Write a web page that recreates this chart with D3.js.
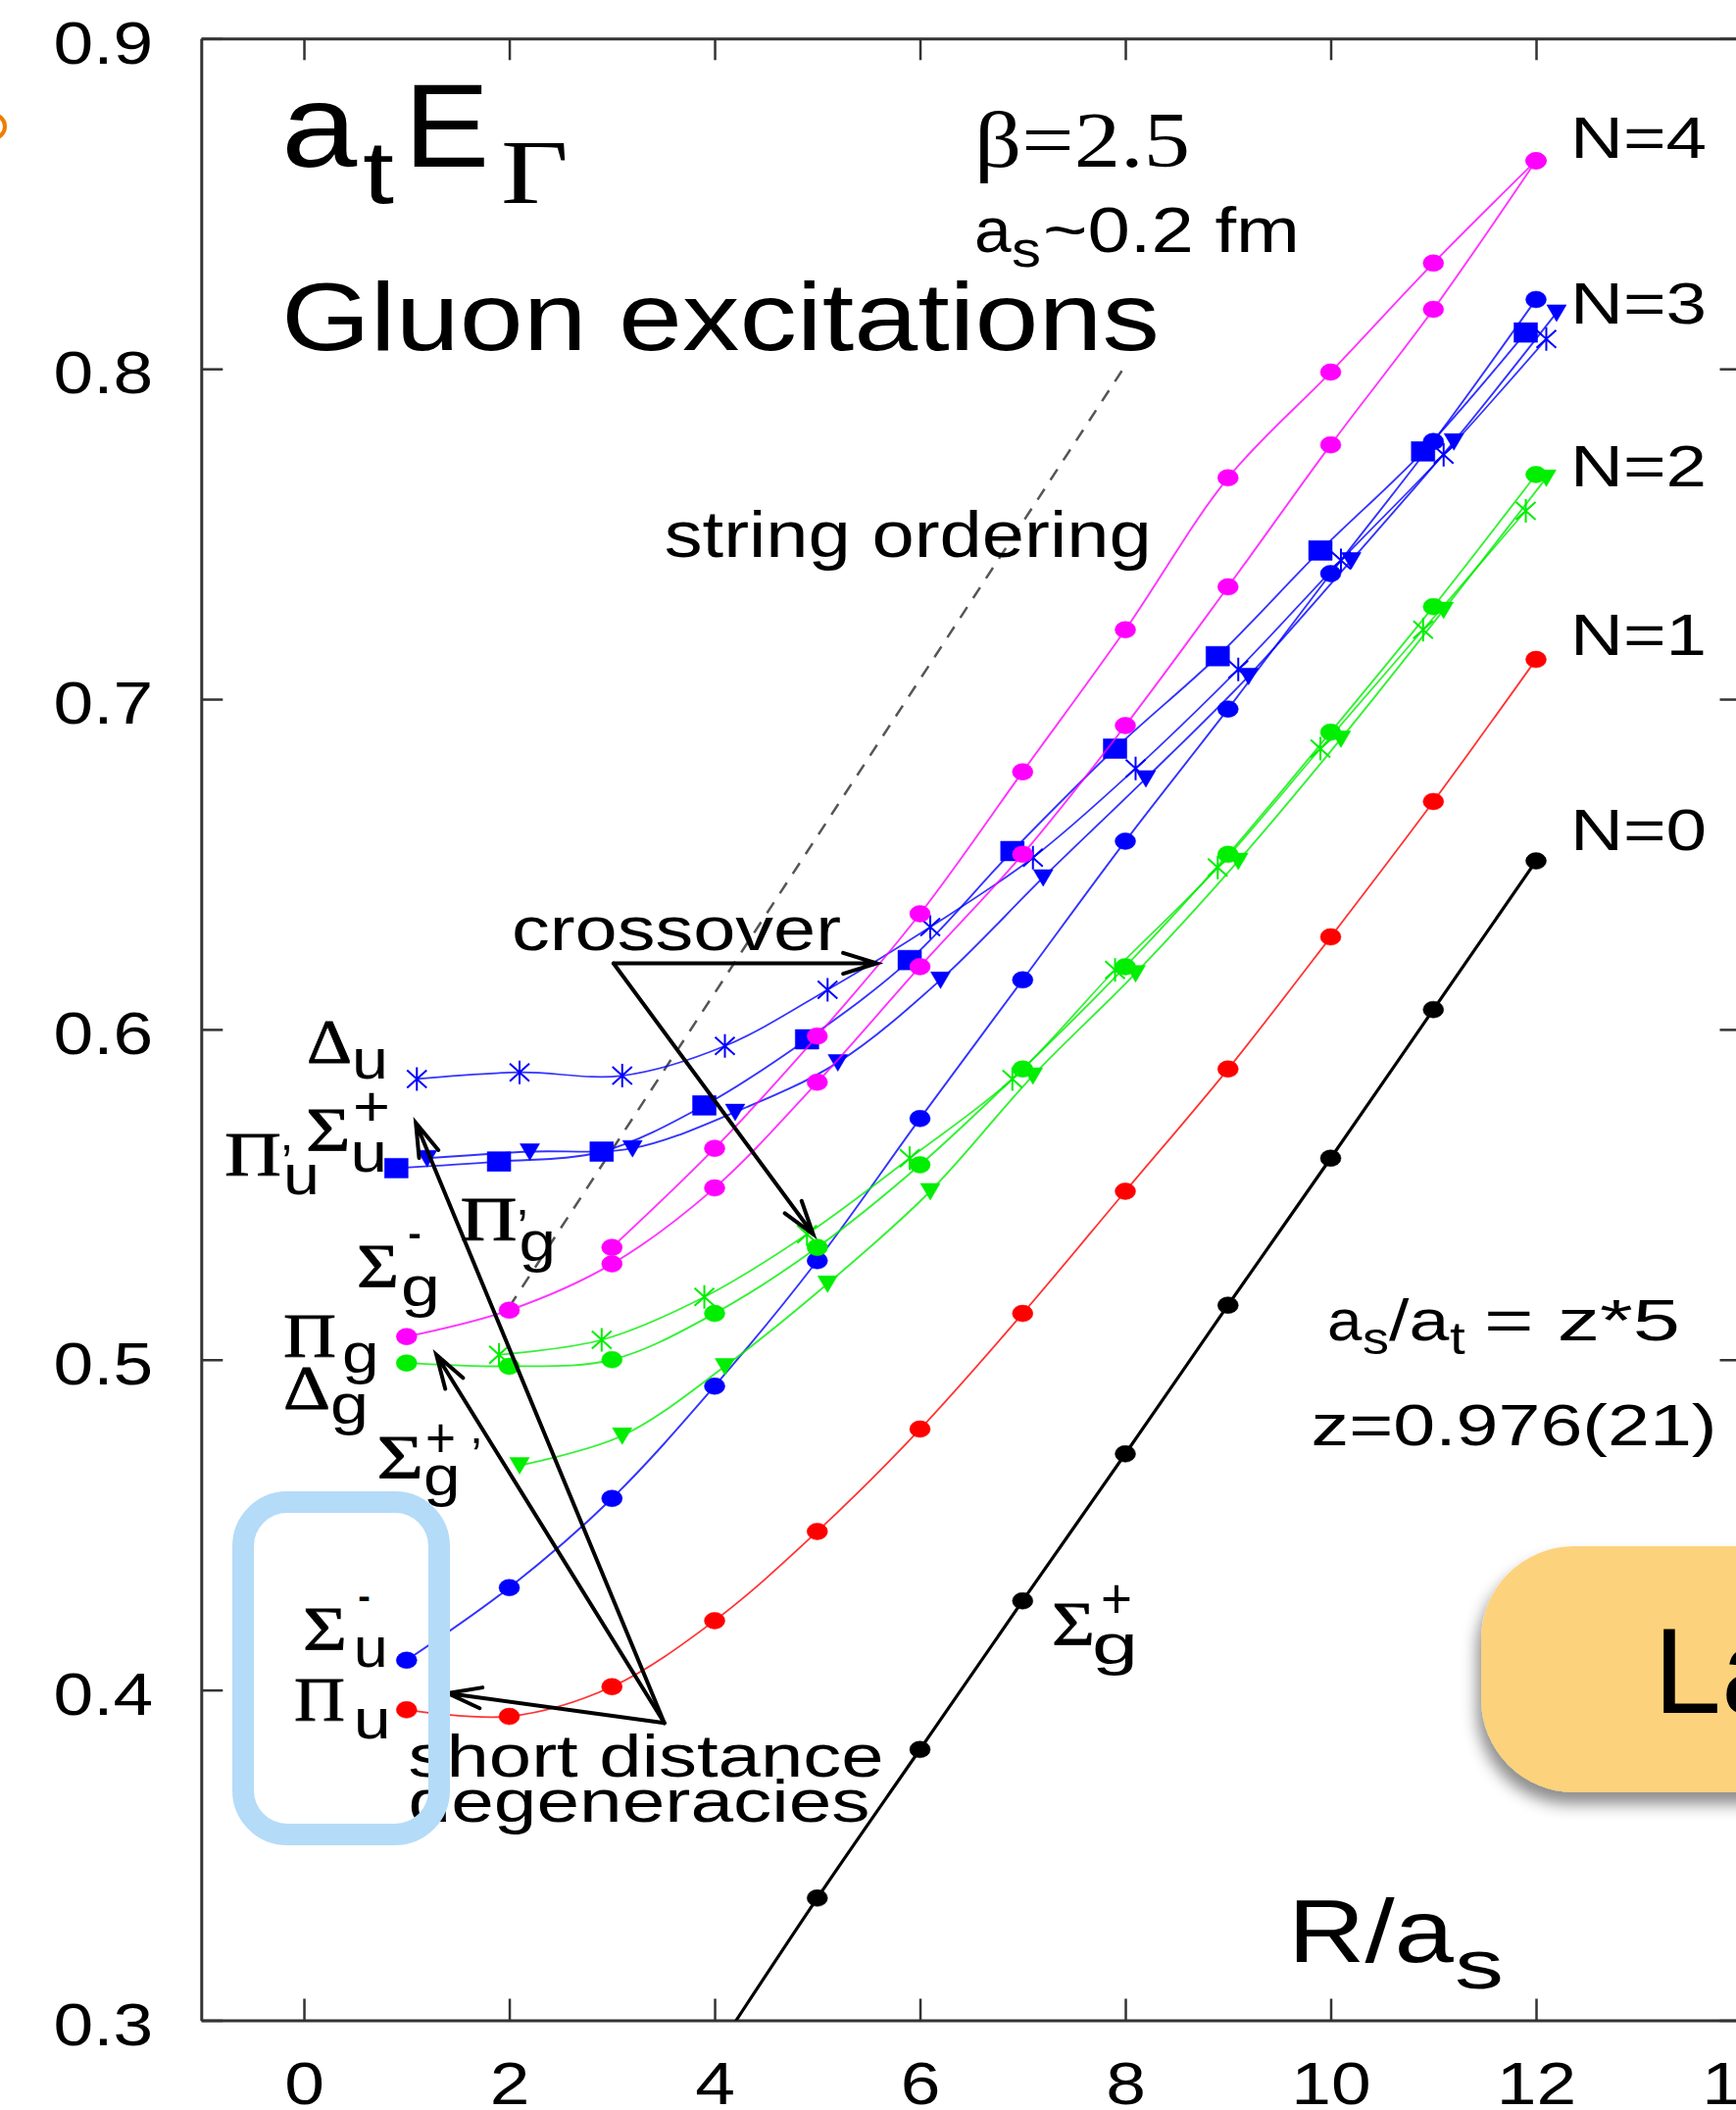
<!DOCTYPE html>
<html>
<head>
<meta charset="utf-8">
<script src="https://cdn.jsdelivr.net/npm/d3@7"></script>
<style>
  html, body { margin: 0; padding: 0; background: #fff; }
  svg { display: block; }
  text { font-family: "Liberation Sans", Arial, Helvetica, sans-serif; fill: #000; }
  .serif { font-family: "Liberation Serif", "Times New Roman", serif; }
  .greek { stroke: #000; stroke-width: 0.8; }
</style>
</head>
<body>
<div id="chart"></div>
<script>
// separation R/a_s
const R = [1, 2, 3, 4, 5, 6, 7, 8, 9, 10, 11, 12];

// N=0
const sigmaGPlus = [null, null, null, 0.290, 0.337, 0.382, 0.427, 0.4715, 0.5165, 0.561, 0.606, 0.651];
// N=1
const piU = [0.394, 0.392, 0.401, 0.421, 0.448, 0.479, 0.514, 0.551, 0.588, 0.628, 0.669, 0.712];
// N=2
const deltaG = [0.499, 0.498, 0.500, 0.514, 0.534, 0.559, 0.588, 0.619, 0.653, 0.690, 0.728, 0.768];
const n2Cross = [null, 0.5015, 0.506, 0.519, 0.538, 0.561, 0.585, 0.618, 0.649, 0.685, 0.721, 0.757];
const sigmaGPlusPrime = [null, 0.468, 0.477, 0.498, 0.523, 0.551, 0.586, 0.617, 0.651, 0.688, 0.727, 0.767];
// N=3
const sigmaUMinus = [0.409, 0.431, 0.458, 0.492, 0.530, 0.573, 0.615, 0.657, 0.697, 0.738, 0.778, 0.821];
const piUPrime = [0.558, 0.560, 0.563, 0.577, 0.597, 0.621, 0.654, 0.685, 0.713, 0.745, 0.775, 0.811];
const sigmaUPlus = [0.561, 0.563, 0.564, 0.575, 0.590, 0.615, 0.646, 0.676, 0.707, 0.742, 0.778, 0.817];
const deltaU = [0.585, 0.587, 0.586, 0.595, 0.612, 0.631, 0.652, 0.679, 0.709, 0.742, 0.774, 0.809];
// N=4
const piG = [0.507, 0.515, 0.529, 0.552, 0.584, 0.619, 0.653, 0.692, 0.734, 0.777, 0.818, 0.863];
const piGPrime = [null, null, 0.534, 0.564, 0.598, 0.635, 0.678, 0.721, 0.767, 0.799, 0.832, 0.863];

const xTicks = [0, 2, 4, 6, 8, 10, 12, 14];
const yTicks = [0.3, 0.4, 0.5, 0.6, 0.7, 0.8, 0.9];

// annotation geometry, in data units
const stringOrdering = [[2.0, 0.516], [8.0, 0.801]];
const crossoverFrom = [3.015, 0.620];
const crossoverTo = [[5.58, 0.620], [4.96, 0.538]];
const degenFrom = [3.51, 0.390];
const degenTo = [[1.40, 0.399], [1.29, 0.5015], [1.09, 0.5717]];
const levelLabels = ["N=4", "N=3", "N=2", "N=1", "N=0"];
const levelLabelY = [0.8639, 0.8137, 0.7645, 0.7135, 0.6543];

const W = 1771, H = 2152;
const x = d3.scaleLinear().domain([-1, 14]).range([205.3, 1776.5]);
const y = d3.scaleLinear().domain([0.3, 0.9]).range([2060.5, 39.3]);

const svg = d3.select("#chart").append("svg")
  .attr("width", W).attr("height", H).attr("viewBox", [0, 0, W, H]);
svg.append("rect").attr("width", W).attr("height", H).attr("fill", "#fff");

const defs = svg.append("defs");
defs.append("clipPath").attr("id", "plot-clip").append("rect")
  .attr("x", x(-1)).attr("y", y(0.9)).attr("width", x(14) - x(-1)).attr("height", y(0.3) - y(0.9));
defs.append("filter").attr("id", "shadow").attr("x", "-20%").attr("y", "-20%").attr("width", "140%").attr("height", "150%")
  .append("feDropShadow").attr("dx", -4).attr("dy", 12).attr("stdDeviation", 8)
  .attr("flood-color", "#000").attr("flood-opacity", 0.45);

// stretch a text horizontally so it spans `w` pixels
function fit(t, X, Y, w) {
  t.attr("x", 0).attr("y", 0);
  const bw = t.node().getBBox().width || 1;
  t.attr("transform", `translate(${X},${Y}) scale(${w ? w / bw : 1},1)`);
  return t;
}

// ---- axes (ticks point inward on all four sides)
const axisColor = "#333";
const tickLen = 22;
const stretchTicks = 1.18;

svg.append("g").attr("transform", `translate(${x(-1)},0)`)
  .call(d3.axisLeft(y).tickValues(yTicks).tickSize(-tickLen).tickSizeOuter(0).tickPadding(0).tickFormat(d3.format(".1f")))
  .call((g) => g.attr("color", axisColor).attr("font-size", 62).attr("font-family", null))
  .call((g) => g.select(".domain").attr("stroke-width", 3))
  .call((g) => g.selectAll(".tick line").attr("stroke-width", 2.5))
  .call((g) => g.selectAll(".tick text").attr("fill", "#000").attr("x", 0).attr("dy", "0.4em")
    .attr("transform", `translate(-49,0) scale(${stretchTicks},1)`));

svg.append("g").attr("transform", `translate(0,${y(0.3)})`)
  .call(d3.axisBottom(x).tickValues(xTicks).tickSize(-tickLen).tickSizeOuter(0).tickPadding(0))
  .call((g) => g.attr("color", axisColor).attr("font-size", 62).attr("font-family", null))
  .call((g) => g.select(".domain").attr("stroke-width", 3))
  .call((g) => g.selectAll(".tick line").attr("stroke-width", 2.5))
  .call((g) => g.selectAll(".tick text").attr("fill", "#000").attr("y", 0).attr("dy", "0.71em")
    .attr("transform", `translate(0,41) scale(${stretchTicks},1)`));

svg.append("g").attr("transform", `translate(0,${y(0.9)})`)
  .call(d3.axisTop(x).tickValues(xTicks).tickSize(-tickLen).tickSizeOuter(0).tickFormat(""))
  .call((g) => g.attr("color", axisColor))
  .call((g) => g.select(".domain").attr("stroke-width", 3))
  .call((g) => g.selectAll(".tick line").attr("stroke-width", 2.5));

svg.append("g").attr("transform", `translate(${x(14)},0)`)
  .call(d3.axisRight(y).tickValues(yTicks).tickSize(-tickLen).tickSizeOuter(0).tickFormat(""))
  .call((g) => g.attr("color", axisColor))
  .call((g) => g.select(".domain").attr("stroke-width", 3))
  .call((g) => g.selectAll(".tick line").attr("stroke-width", 2.5));

// ---- string ordering guide
const plot = svg.append("g").attr("clip-path", "url(#plot-clip)");
plot.append("path")
  .attr("d", d3.line().x((d) => x(d[0])).y((d) => y(d[1]))(stringOrdering))
  .attr("fill", "none").attr("stroke", "#555").attr("stroke-width", 2.5).attr("stroke-dasharray", "13,11");

// ---- series
const series = [
  { name: "Σg+", values: sigmaGPlus, color: "#000000", marker: "circle", dx: 0, lw: 3.2 },
  { name: "Πu", values: piU, color: "#ff0000", marker: "circle", dx: 0, lw: 1.8 },
  { name: "Σu-", values: sigmaUMinus, color: "#0000ff", marker: "circle", dx: 0, lw: 1.9 },
  { name: "Πu'", values: piUPrime, color: "#0000ff", marker: "square", dx: -0.1, lw: 1.9 },
  { name: "Σu+", values: sigmaUPlus, color: "#0000ff", marker: "tri", dx: 0.2, lw: 1.9 },
  { name: "Δu", values: deltaU, color: "#0000ff", marker: "star", dx: 0.1, lw: 1.7 },
  { name: "Σg+'", values: sigmaGPlusPrime, color: "#00ee00", marker: "tri", dx: 0.1, lw: 1.9 },
  { name: "N2x", values: n2Cross, color: "#00ee00", marker: "star", dx: -0.1, lw: 1.7 },
  { name: "Δg", values: deltaG, color: "#00ee00", marker: "circle", dx: 0, lw: 1.9 },
  { name: "Πg", values: piG, color: "#ff00ff", marker: "circle", dx: 0, lw: 1.9 },
  { name: "Π'g", values: piGPrime, color: "#ff00ff", marker: "circle", dx: 0, lw: 1.9 },
];

const markerPath = {
  circle: "M-10.5,0 a10.5,8.5 0 1,0 21,0 a10.5,8.5 0 1,0 -21,0 Z",
  square: "M-12,-10 H12 V10 H-12 Z",
  tri: "M-10,-8 H10 L0,9 Z",
  star: "M-10,-9 L10,9 M-10,9 L10,-9 M0,-12 V12",
};

const line = d3.line()
  .x((d) => x(d.r))
  .y((d) => y(d.v))
  .curve(d3.curveCatmullRom.alpha(0.5));

const seriesG = plot.selectAll(".series-g")
  .data(series.map((s) => ({
    ...s,
    pts: R.map((r, i) => ({ r: r + s.dx, v: s.values[i] })).filter((d) => d.v != null),
  })))
  .join("g").attr("class", "series-g");

seriesG.append("path")
  .attr("d", (d) => line(d.pts))
  .attr("fill", "none")
  .attr("stroke", (d) => d.color)
  .attr("stroke-width", (d) => d.lw)
  .attr("stroke-opacity", (d) => (d.color === "#000000" ? 1 : 0.8));

seriesG.selectAll(".mark")
  .data((d) => d.pts.map((p) => ({ ...p, color: d.color, marker: d.marker })))
  .join("path").attr("class", "mark")
  .attr("d", (d) => markerPath[d.marker])
  .attr("transform", (d) => `translate(${x(d.r)},${y(d.v)})`)
  .attr("fill", (d) => (d.marker === "star" ? "none" : d.color))
  .attr("stroke", (d) => d.color)
  .attr("stroke-width", (d) => (d.marker === "star" ? 2 : 0.5));

// ---- arrows
function arrow(from, to) {
  const x1 = x(from[0]), y1 = y(from[1]), x2 = x(to[0]), y2 = y(to[1]);
  const a = Math.atan2(y2 - y1, x2 - x1), L = 36, phi = 0.3;
  const b1 = [x2 - L * Math.cos(a - phi), y2 - L * Math.sin(a - phi)];
  const b2 = [x2 - L * Math.cos(a + phi), y2 - L * Math.sin(a + phi)];
  svg.append("path")
    .attr("d", `M${x1},${y1} L${x2},${y2} M${b1} L${x2},${y2} L${b2}`)
    .attr("fill", "none").attr("stroke", "#000").attr("stroke-width", 4)
    .attr("stroke-linejoin", "miter").attr("stroke-linecap", "round");
}
crossoverTo.forEach((t) => arrow(crossoverFrom, t));
degenTo.forEach((t) => arrow(degenFrom, t));

// ---- text annotations
function label(u, v, parts) {
  const X = x(u), Y = y(v);
  parts.forEach((p) => {
    const t = svg.append("text")
      .attr("class", p.serif ? "serif" : null)
      .classed("greek", !!p.bold)
      .attr("font-size", p.size)
      .text(p.t);
    fit(t, X + (p.dx || 0), Y + (p.dy || 0), p.w);
  });
}

label(-0.22, 0.8612, [
  { t: "a", size: 120, w: 77.5 },
  { t: "t", dx: 83, dy: 37, size: 90, w: 32 },
  { t: "E", dx: 125, size: 120, w: 87.4 },
  { t: "Γ", serif: true, dx: 224, dy: 37, size: 94, w: 69 },
]);
label(-0.22, 0.8057, [{ t: "Gluon excitations", size: 99, w: 896 }]);
label(6.53, 0.8612, [{ t: "β=2.5", serif: true, size: 80, w: 220 }]);
label(6.53, 0.8354, [
  { t: "a", size: 64, w: 38 },
  { t: "s", dx: 38, dy: 15, size: 52, w: 30 },
  { t: "~0.2 fm", dx: 70, size: 64, w: 262 },
]);
levelLabels.forEach((s, i) => label(12.335, levelLabelY[i], [{ t: s, size: 60, w: 139 }]));
label(3.51, 0.743, [{ t: "string ordering", size: 66, w: 497 }]);
label(2.024, 0.624, [{ t: "crossover", size: 62, w: 336 }]);
label(1.017, 0.3737, [{ t: "short distance", size: 62, w: 485 }]);
label(1.017, 0.360, [{ t: "degeneracies", size: 62, w: 471 }]);
label(9.967, 0.5058, [
  { t: "a", size: 60, w: 36 },
  { t: "s", dx: 36, dy: 14, size: 46, w: 27 },
  { t: "/a", dx: 63, size: 60, w: 62 },
  { t: "t", dx: 125, dy: 14, size: 46, w: 16 },
  { t: "= z*5", dx: 160, size: 60, w: 200 },
]);
label(9.81, 0.474, [{ t: "z=0.976(21)", size: 60, w: 414 }]);
label(9.585, 0.3177, [
  { t: "R/a", size: 90, w: 170 },
  { t: "s", dx: 170, dy: 27, size: 70, w: 50 },
]);

// state labels: Greek letter (serif) with sans sub/superscripts
const gs = 64, ss = 58;
label(0.029, 0.590, [
  { t: "Δ", serif: true, bold: true, size: gs, w: 46 },
  { t: "u", dx: 46, dy: 16, size: ss, w: 37 },
]);
label(-0.773, 0.5557, [
  { t: "Π", serif: true, bold: true, size: gs, w: 58 },
  { t: "’", dx: 58, dy: 4, size: 50, w: 11 },
  { t: "u", dx: 60, dy: 19, size: ss, w: 37 },
]);
label(0.019, 0.5631, [
  { t: "Σ", serif: true, bold: true, size: gs, w: 45.5 },
  { t: "+", dx: 48, dy: -26, size: ss, w: 38 },
  { t: "u", dx: 45.5, dy: 21, size: ss, w: 37.5 },
]);
label(1.523, 0.5361, [
  { t: "Π", serif: true, bold: true, size: gs, w: 58 },
  { t: "’", dx: 58, dy: 4, size: 50, w: 11 },
  { t: "g", dx: 60, dy: 21, size: ss, w: 37.5 },
]);
label(0.516, 0.5218, [
  { t: "Σ", serif: true, bold: true, size: gs, w: 43 },
  { t: "-", dx: 52, dy: -37, size: ss, w: 14 },
  { t: "g", dx: 45, dy: 19, size: ss, w: 40 },
]);
label(-0.2, 0.5009, [
  { t: "Π", serif: true, bold: true, size: gs, w: 54 },
  { t: "g", dx: 60, dy: 16.5, size: ss, w: 37.6 },
]);
label(-0.2, 0.485, [
  { t: "Δ", serif: true, bold: true, size: gs, w: 48 },
  { t: "g", dx: 48, dy: 15, size: ss, w: 39 },
]);
label(0.711, 0.4639, [
  { t: "Σ", serif: true, bold: true, size: gs, w: 47.5 },
  { t: "+", dx: 49.5, dy: -22, size: ss, w: 31 },
  { t: "’", dx: 96, dy: -6, size: 50, w: 11 },
  { t: "g", dx: 47.5, dy: 16.5, size: ss, w: 37.5 },
]);
label(-0.01, 0.412, [
  { t: "Σ", serif: true, bold: true, size: gs, w: 45 },
  { t: "-", dx: 56, dy: -37, size: ss, w: 13 },
  { t: "u", dx: 51.7, dy: 17, size: ss, w: 35 },
]);
label(-0.095, 0.3906, [
  { t: "Π", serif: true, bold: true, size: gs, w: 52 },
  { t: "u", dx: 60.7, dy: 18, size: ss, w: 38 },
]);
label(7.284, 0.4136, [
  { t: "Σ", serif: true, bold: true, size: gs, w: 44 },
  { t: "+", dx: 50, dy: -27.5, size: ss, w: 32 },
  { t: "g", dx: 41, dy: 19, size: ss, w: 47 },
]);

// ---- slide overlays
svg.append("rect")
  .attr("x", 248).attr("y", 1532).attr("width", 200).attr("height", 339).attr("rx", 45)
  .attr("fill", "none").attr("stroke", "#b4dbf8").attr("stroke-width", 22);

svg.append("rect")
  .attr("x", 1511).attr("y", 1577).attr("width", 420).attr("height", 251).attr("rx", 95)
  .attr("fill", "#fcd27b").attr("filter", "url(#shadow)");
svg.append("text").attr("x", 1687).attr("y", 1747).attr("font-size", 124).text("La");

svg.append("ellipse").attr("cx", -7).attr("cy", 129).attr("rx", 12).attr("ry", 12)
  .attr("fill", "none").attr("stroke", "#ee7d00").attr("stroke-width", 4);
</script>
</body>
</html>
